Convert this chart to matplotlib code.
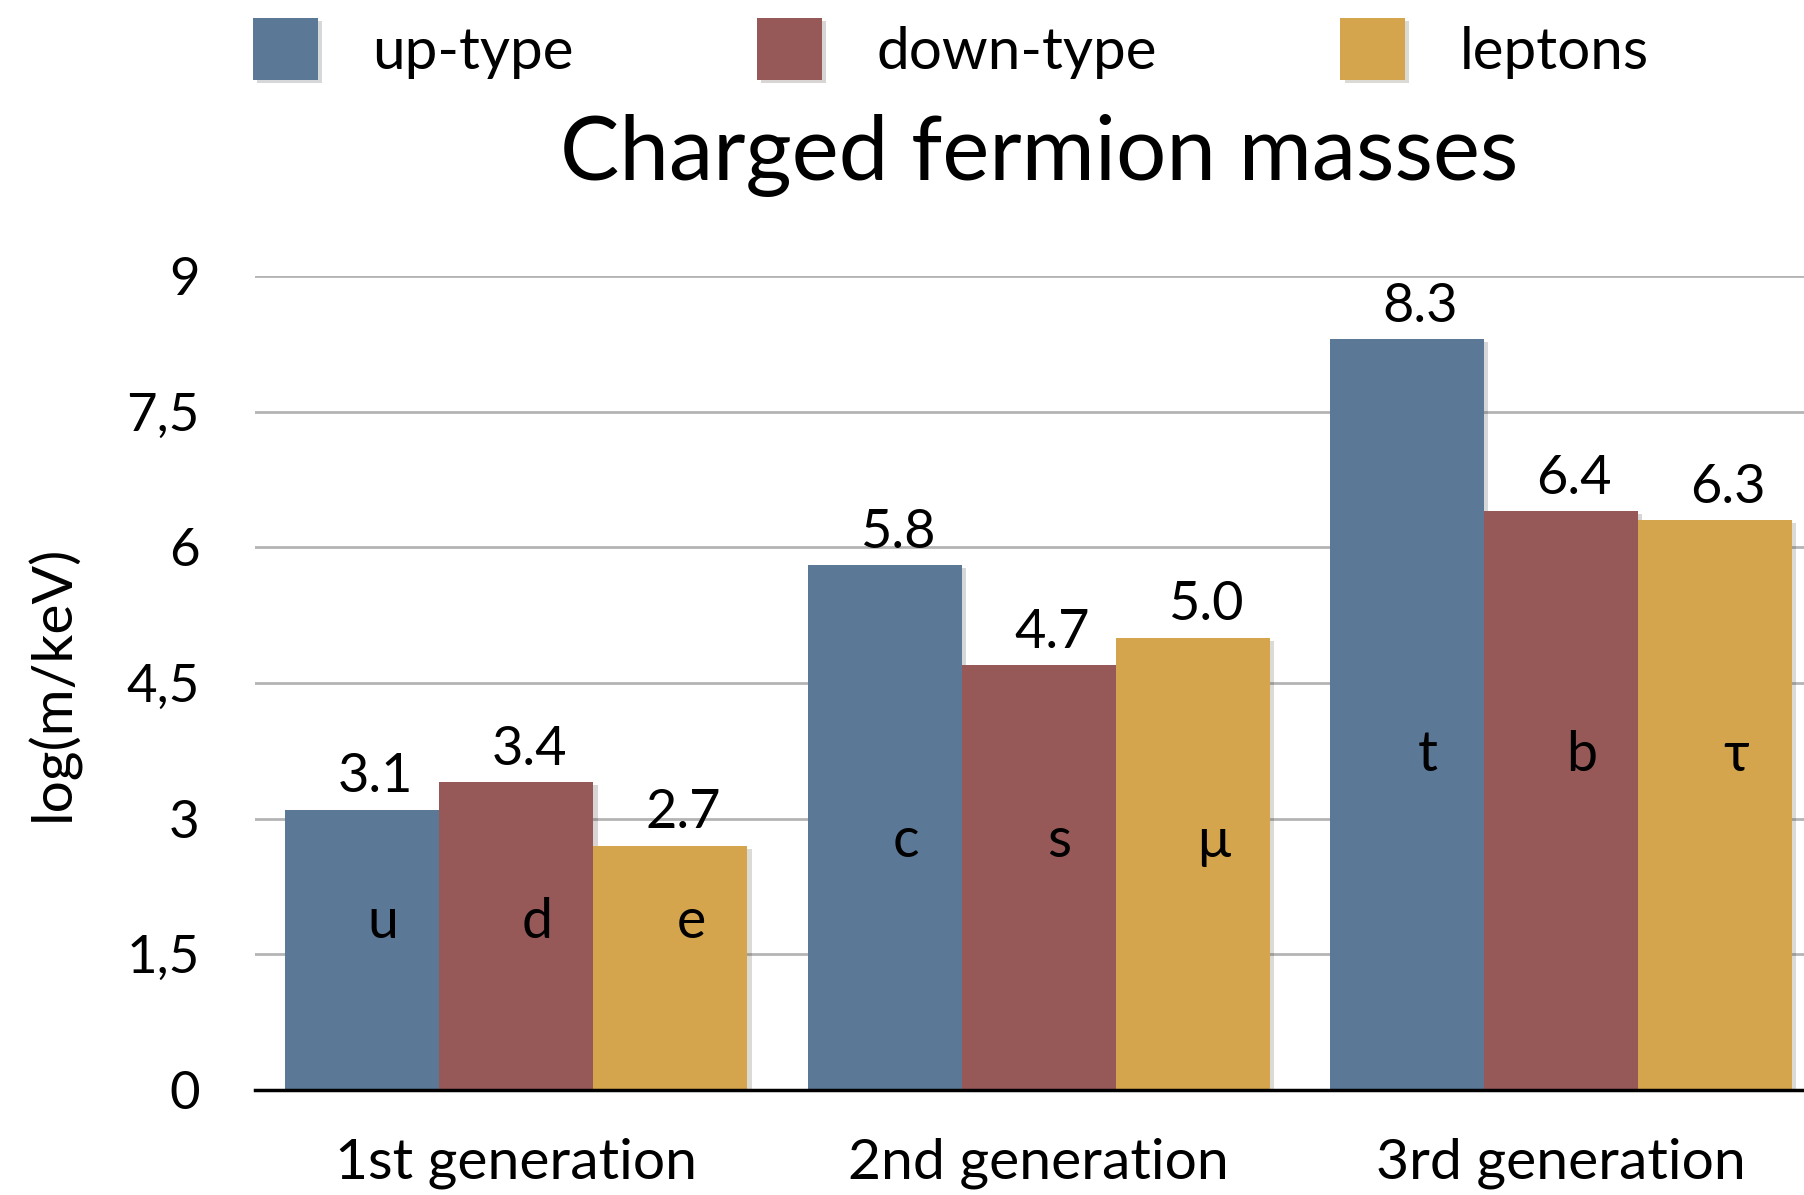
import numpy as np
import matplotlib.pyplot as plt
import matplotlib.patheffects as pe

plt.rcParams['font.family'] = ['Lato', 'DejaVu Sans']

# дані
generations = ['1st generation', '2nd generation', '3rd generation']
series = ['up-type', 'down-type', 'leptons']
up_type = [3.1, 5.8, 8.3]
down_type = [3.4, 4.7, 6.4]
leptons = [2.7, 5.0, 6.3]
particles = [['u', 'c', 't'], ['d', 's', 'b'], ['e', 'μ', 'τ']]
letter_y = [1.85, 2.75, 3.7]
yticks = [0, 1.5, 3, 4.5, 6, 7.5, 9]
ytick_labels = ['0', '1,5', '3', '4,5', '6', '7,5', '9']

colors = ['#5b7897', '#975958', '#d5a54d']

fig = plt.figure(figsize=(18.04, 11.95), dpi=100)
ax = fig.add_axes([0.1414, 0.0879, 0.8586, 0.6811])

x = np.arange(len(generations))
w = 0.295
shadow = [pe.SimplePatchShadow(offset=(3, -2), alpha=0.18), pe.Normal()]

for i, (vals, name) in enumerate(zip([up_type, down_type, leptons], series)):
    pos = x + (i - 1) * w
    bars = ax.bar(pos, vals, width=w, color=colors[i], label=name, zorder=3)
    for b in bars:
        b.set_path_effects(shadow)
    for j, v in enumerate(vals):
        ax.annotate(f'{v:.1f}', (pos[j] + 0.025, v), xytext=(0, 6),
                    textcoords='offset points', ha='center', va='bottom',
                    fontsize=39, zorder=4)
        ax.text(pos[j] + 0.04, letter_y[j], particles[i][j], ha='center',
                va='center', fontsize=40, zorder=4)

ax.set_xlim(-0.5, 2.465)
ax.set_ylim(0, 9)
ax.set_yticks(yticks)
ax.set_yticklabels(ytick_labels)
ax.set_xticks(x)
ax.set_xticklabels(generations)
ax.tick_params(axis='y', length=0, pad=40, labelsize=38)
ax.tick_params(axis='x', length=0, pad=34, labelsize=41)
ax.yaxis.grid(True, color='#b4b4b4', linewidth=2, zorder=0)
ax.set_axisbelow(True)
for s in ['top', 'right', 'left']:
    ax.spines[s].set_visible(False)
ax.spines['bottom'].set_linewidth(2.5)
ax.spines['bottom'].set_color('black')
ax.spines['bottom'].set_zorder(5)

ax.set_ylabel('log(m/keV)', fontsize=41)
ax.yaxis.set_label_coords(-0.113, 0.5)

fig.text(0.576, 0.849, 'Charged fermion masses', ha='center', va='baseline',
         fontsize=64)

fig.legend(loc='center', bbox_to_anchor=(0.527, 0.959), ncol=3, frameon=False,
           fontsize=42, handlelength=1.11, handleheight=1.25,
           handletextpad=0.93, columnspacing=3.15)

fig.savefig('out.png', dpi=100)
